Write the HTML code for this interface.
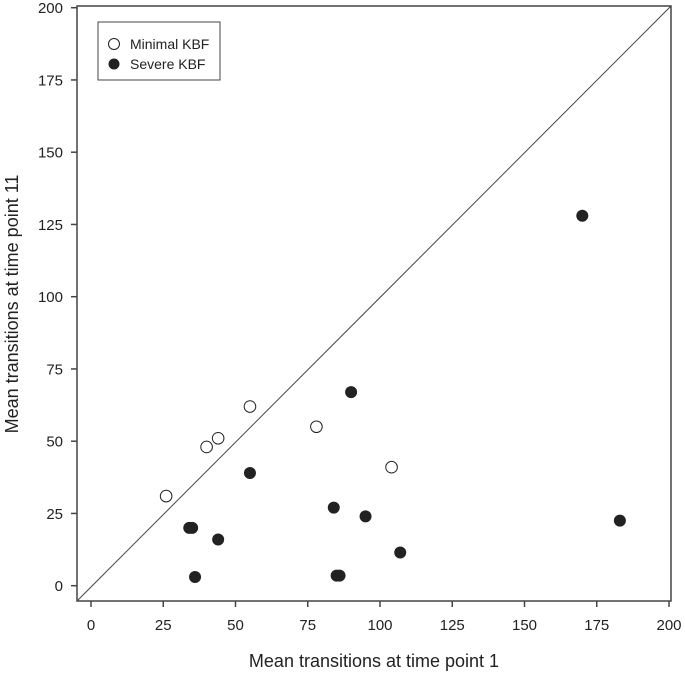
<!DOCTYPE html>
<html><head><meta charset="utf-8"><style>
body{margin:0;background:#fff}
svg text{font-family:"Liberation Sans",Arial,sans-serif;fill:#222}
</style></head><body>
<svg id="chart" width="685" height="671">
<rect x="77" y="6" width="594" height="595" fill="none" stroke="#444" stroke-width="1.5"/>
<line x1="77" y1="601" x2="671" y2="6" stroke="#444" stroke-width="1"/>
<g id="axes"></g><g id="pts"></g>
<g>
<rect x="98" y="22" width="122" height="58" fill="#fff" stroke="#444"/>
<circle cx="114" cy="44" r="5.5" fill="#fff" stroke="#222"/>
<text x="130" y="49" font-size="14">Minimal KBF</text>
<circle cx="114" cy="64" r="5.5" fill="#222"/>
<text x="130" y="69" font-size="14">Severe KBF</text>
</g>
<text x="374" y="667" font-size="18" text-anchor="middle">Mean transitions at time point 1</text>
<text transform="translate(18,304) rotate(-90)" font-size="18" text-anchor="middle">Mean transitions at time point 11</text>
</svg>
<script>
const ticks=[0,25,50,75,100,125,150,175,200];
const minimalX=[26,40,44,55,78,104];
const minimalY=[31,48,51,62,55,41];
const severeX=[34,35,36,44,55,84,85,86,90,95,107,170,183];
const severeY=[20,20,3,16,39,27,3.5,3.5,67,24,11.5,128,22.5];
const NS="http://www.w3.org/2000/svg";
const sx=v=>91+v*2.89, sy=v=>585.7-v*2.89;
const ax=document.getElementById('axes'), pts=document.getElementById('pts');
function mk(t,a,p){const e=document.createElementNS(NS,t);for(const k in a)e.setAttribute(k,a[k]);p.appendChild(e);return e;}
ticks.forEach(t=>{
 let l=mk('line',{x1:sx(t),x2:sx(t),y1:601,y2:607,stroke:'#444','stroke-width':1.5},ax);
 
 
 let tx=mk('text',{x:sx(t),y:630,'font-size':15,'text-anchor':'middle'},ax);tx.textContent=t;
 
 
 let l2=mk('line',{x1:71,x2:77,y1:sy(t),y2:sy(t),stroke:'#444','stroke-width':1.5},ax);
 
 
 let ty=mk('text',{x:63,y:sy(t)+5.5,'font-size':15,'text-anchor':'end'},ax);ty.textContent=t;
 
 
});
minimalX.forEach((x,i)=>{
 let c=mk('circle',{cx:sx(x),cy:sy(minimalY[i]),r:5.8,fill:'#fff',stroke:'#222','stroke-width':1},pts);
 
 
});
severeX.forEach((x,i)=>{
 let c=mk('circle',{cx:sx(x),cy:sy(severeY[i]),r:6,fill:'#222'},pts);
 
 
});
</script>
</body></html>
